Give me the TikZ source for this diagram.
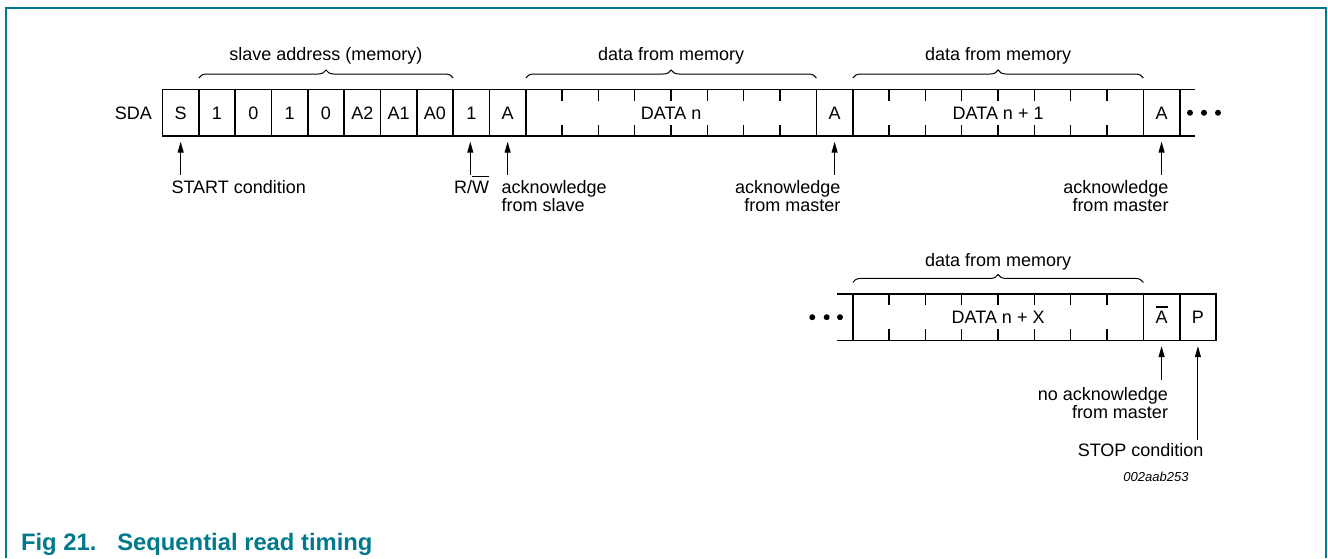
\documentclass[tikz,border=0pt]{standalone}
\usepackage{fontspec}
\setmainfont{Liberation Sans}
\usetikzlibrary{arrows.meta,decorations.pathreplacing,calc}
\definecolor{nxpteal}{RGB}{0,121,140}
\newcommand{\barred}[1]{\leavevmode\vbox{\hrule height 1.2pt\kern 3.6pt\hbox{#1}}}
\begin{document}
\begin{tikzpicture}[x=1pt,y=-1pt,
  every node/.style={inner sep=0pt,outer sep=0pt},
  txt/.style={font=\fontsize{18}{18}\selectfont},
  cell/.style={draw,line width=1.6pt,minimum height=46.5pt,minimum width=36.33pt,txt,text height=12.9pt,text depth=0pt},
  tickline/.style={line width=1.4pt},
  bus/.style={line width=1.6pt},
  pointer/.style={line width=1pt,-{Triangle[length=11pt,width=6pt]}},
  bracestyle/.style={line width=1pt,decorate,decoration={brace,amplitude=8pt}},
  busdot/.style={circle,fill,minimum size=6pt},
  frameline/.style={draw=nxpteal,line width=2pt},
  caption/.style={text=nxpteal,font=\fontsize{23.8}{23.8}\selectfont\bfseries},
]
\useasboundingbox (0,0) rectangle (1328,558);
\def\w{36.33}\def\xo{162.5}\def\yt{112.75}\def\yb{317.2}
% frame
\draw[frameline] (5.5,558) -- (5.5,8.3) -- (1326.3,8.3) -- (1326.3,558);
% ---------- top row ----------
\node[txt,anchor=base east] (sda) at (152,119) {SDA};
\node[cell] (S) at ({\xo+0.5*\w},\yt) {S};
\foreach \t [count=\i from 1] in {1,0,1,0,A2,A1,A0,1,A}
  \node[cell] (c\i) at ({\xo+(\i+0.5)*\w},\yt) {\t};
\node[cell,minimum width=8*\w] (Dn) at ({\xo+14*\w},\yt) {DATA n};
\node[cell] (Am1) at ({\xo+18.5*\w},\yt) {A};
\node[cell,minimum width=8*\w] (Dn1) at ({\xo+23*\w},\yt) {DATA n + 1};
\node[cell] (Am2) at ({\xo+27.5*\w},\yt) {A};
\coordinate (busend) at (1195,\yt);
\draw[bus] (Am2.north east) -- (Am2.north east -| busend);
\draw[bus] (Am2.south east) -- (Am2.south east -| busend);
\node[busdot] (td1) at (1190,\yt) {};
\node[busdot] (td2) at (1204,\yt) {};
\node[busdot] (td3) at (1218,\yt) {};
\foreach \blk in {Dn,Dn1}{
  \foreach \k in {1,...,7}{
    \draw[tickline] ([xshift={\k*\w}]\blk.north west) -- ++(0,11);
    \draw[tickline] ([xshift={\k*\w}]\blk.south west) -- ++(0,-11);
  }
}
% braces top
\draw[bracestyle] ([yshift=11.5]c1.north west) -- ([yshift=11.5]c7.north east);
\node[txt,anchor=base] (lblsa) at ({\xo+4.5*\w},60.5) {slave address (memory)};
\draw[bracestyle] ([yshift=11.5]Dn.north west) -- ([yshift=11.5]Dn.north east);
\node[txt,anchor=base] (lbldn) at ({\xo+14*\w},60) {data from memory};
\draw[bracestyle] ([yshift=11.5]Dn1.north west) -- ([yshift=11.5]Dn1.north east);
\node[txt,anchor=base] (lbldn1) at ({\xo+23*\w},60) {data from memory};
% arrows top
\coordinate (tailrow) at (0,175);
\foreach \n in {S,c9,Am1,Am2}
  \draw[pointer] (\n.south |- tailrow) -- ([yshift=-5.7]\n.south);
\draw[pointer] ([xshift=-1]c8.south |- tailrow) -- ([yshift=-5.7,xshift=-1]c8.south);
\node[txt,anchor=base] (rwlbl) at (471.5,193.3) {R/\barred{W}};
\node[txt,anchor=base west] (startlbl) at (171.5,193.3) {START condition};
\node[txt,anchor=base west] (acks1) at (501.7,193.3) {acknowledge};
\node[txt,anchor=base west] (acks2) at (501.7,211.7) {from slave};
\node[txt,anchor=base east] (ackm1a) at (840.3,193.3) {acknowledge};
\node[txt,anchor=base east] (ackm1b) at (840.3,211.7) {from master};
\node[txt,anchor=base east] (ackm2a) at (1168.5,193.3) {acknowledge};
\node[txt,anchor=base east] (ackm2b) at (1168.5,211.7) {from master};
% ---------- bottom row ----------
\node[cell,minimum width=8*\w] (Dnx) at ({\xo+23*\w},\yb) {DATA n + X};
\node[cell] (nA) at ({\xo+27.5*\w},\yb) {\barred{A}};
\node[cell] (P) at ({\xo+28.5*\w},\yb) {P};
\coordinate (busstart) at (837.3,\yb);
\draw[bus] (Dnx.north west) -- (Dnx.north west -| busstart);
\draw[bus] (Dnx.south west) -- (Dnx.south west -| busstart);
\node[busdot] (bd1) at (812.3,\yb) {};
\node[busdot] (bd2) at (826.7,\yb) {};
\node[busdot] (bd3) at (840,\yb) {};
\foreach \k in {1,...,7}{
  \draw[tickline] ([xshift={\k*\w}]Dnx.north west) -- ++(0,11);
  \draw[tickline] ([xshift={\k*\w}]Dnx.south west) -- ++(0,-11);
}
\draw[bracestyle] ([yshift=11.5]Dnx.north west) -- ([yshift=11.5]Dnx.north east);
\node[txt,anchor=base] (lbldnx) at ({\xo+23*\w},266) {data from memory};
\coordinate (tailA) at (0,380);
\coordinate (tailP) at (0,440);
\draw[pointer] (nA.south |- tailA) -- ([yshift=-5.7]nA.south);
\draw[pointer] (P.south |- tailP) -- ([yshift=-5.7]P.south);
\node[txt,anchor=base east] (noack1) at (1168,400) {no acknowledge};
\node[txt,anchor=base east] (noack2) at (1168,418.3) {from master};
\node[txt,anchor=base east] (stoplbl) at (1203.5,456.3) {STOP condition};
\node[anchor=base east,font=\fontsize{13}{13}\selectfont\itshape] (figid) at (1188.5,481.3) {002aab253};
% caption
\node[caption,anchor=base west] (fignum) at (21,550) {Fig 21.};
\node[caption,anchor=base west] (figtitle) at (117.3,550) {Sequential read timing};
\end{tikzpicture}
\end{document}
